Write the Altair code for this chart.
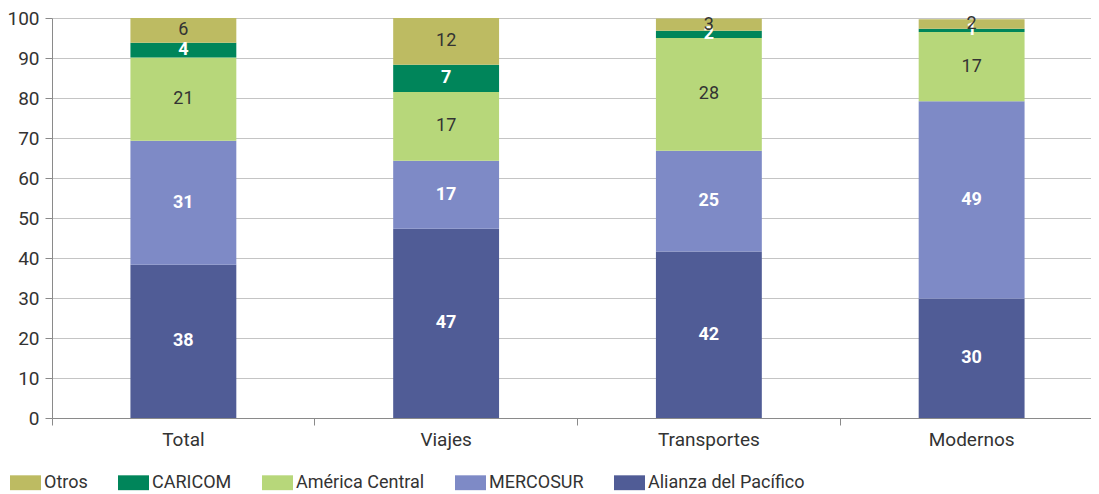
import altair as alt
import pandas as pd

categories = ["Total", "Viajes", "Transportes", "Modernos"]
series_bottom_to_top = ["Alianza del Pacífico", "MERCOSUR", "América Central", "CARICOM", "Otros"]
alianza = [38.3, 47.3, 41.6, 29.8]
mercosur = [31.0, 17.0, 25.2, 49.4]
america_central = [20.8, 17.2, 28.2, 17.3]
caricom = [3.7, 6.8, 1.8, 0.8]
otros = [6.2, 11.7, 3.1, 2.4]

legend_order = ["Otros", "CARICOM", "América Central", "MERCOSUR", "Alianza del Pacífico"]
colors = ["#BDBB62", "#00855A", "#B7D77A", "#7E8AC6", "#505C96"]
white_label_series = ["Alianza del Pacífico", "MERCOSUR", "CARICOM"]

values_by_series = [alianza, mercosur, america_central, caricom, otros]
rows = []
for rank, (s, vals) in enumerate(zip(series_bottom_to_top, values_by_series)):
    for c, v in zip(categories, vals):
        rows.append({"cat": c, "series": s, "value": v, "rank": rank})
df = pd.DataFrame(rows)

FONT = "Roboto"
W = 1039
H = 400
X_RANGE = 1051  # band scale runs slightly past the visible right edge, as in the original

x_axis = alt.Axis(
    bandPosition=0,
    labelAngle=0,
    labelPadding=5,
    tickSize=7,
    domainColor="#8a8a8a",
    tickColor="#8a8a8a",
    labelFontSize=19,
    labelColor="#333333",
    labelFont=FONT,
)
x_scale = alt.Scale(paddingInner=0, paddingOuter=0, range=[0, X_RANGE])

y_axis = alt.Axis(
    values=list(range(0, 101, 10)),
    labelOverlap=False,
    tickSize=7,
    labelPadding=6,
    domainColor="#8a8a8a",
    tickColor="#8a8a8a",
    gridColor="#c4c4c4",
    grid=True,
    labelFontSize=19,
    labelColor="#333333",
    labelFont=FONT,
)
y_scale = alt.Scale(domain=[0, 100], nice=False)

base = alt.Chart(df)

bars = base.mark_bar(width=alt.RelativeBandSize(0.403)).encode(
    x=alt.X("cat:N", sort=categories, title=None, scale=x_scale, axis=x_axis),
    y=alt.Y("value:Q", stack="zero", title=None, scale=y_scale, axis=y_axis),
    color=alt.Color(
        "series:N",
        scale=alt.Scale(domain=legend_order, range=colors),
        legend=alt.Legend(
            title=None,
            orient="none",
            direction="horizontal",
            legendX=-42,
            legendY=449,
            symbolType="M-1,-0.48H1V0.48H-1Z",
            symbolSize=961,
            symbolStrokeWidth=0,
            symbolOpacity=1,
            labelFontSize=18,
            labelFont=FONT,
            labelColor="#333333",
            labelOffset=3,
            labelLimit=400,
            columnPadding=30,
        ),
    ),
    order=alt.Order("rank:Q"),
)

stacked = base.transform_stack(
    stack="value", groupby=["cat"], as_=["y0", "y1"], sort=[alt.SortField("rank")]
).transform_calculate(mid="(datum.y0 + datum.y1) / 2")

text_x = alt.X("cat:N", sort=categories, title=None, scale=x_scale, axis=x_axis)
text_y = alt.Y("mid:Q", title=None, scale=y_scale, axis=y_axis)

white_text = stacked.transform_filter(
    alt.FieldOneOfPredicate(field="series", oneOf=white_label_series)
).mark_text(color="white", fontWeight="bold", fontSize=18, font=FONT, baseline="middle").encode(
    x=text_x,
    y=text_y,
    text=alt.Text("value:Q", format=".0f"),
)

dark_text = stacked.transform_filter(
    ~alt.FieldOneOfPredicate(field="series", oneOf=white_label_series)
).mark_text(color="#333333", fontSize=18, font=FONT, baseline="middle").encode(
    x=text_x,
    y=text_y,
    text=alt.Text("value:Q", format=".0f"),
)

chart = alt.layer(bars, white_text, dark_text).properties(
    width=W,
    height=H,
    autosize=alt.AutoSizeParams(type="none"),
    padding={"left": 44, "top": 10, "right": 0, "bottom": 76},
).configure_view(stroke=None)

chart.save("out.html", embed_options={"renderer": "svg", "actions": False})
